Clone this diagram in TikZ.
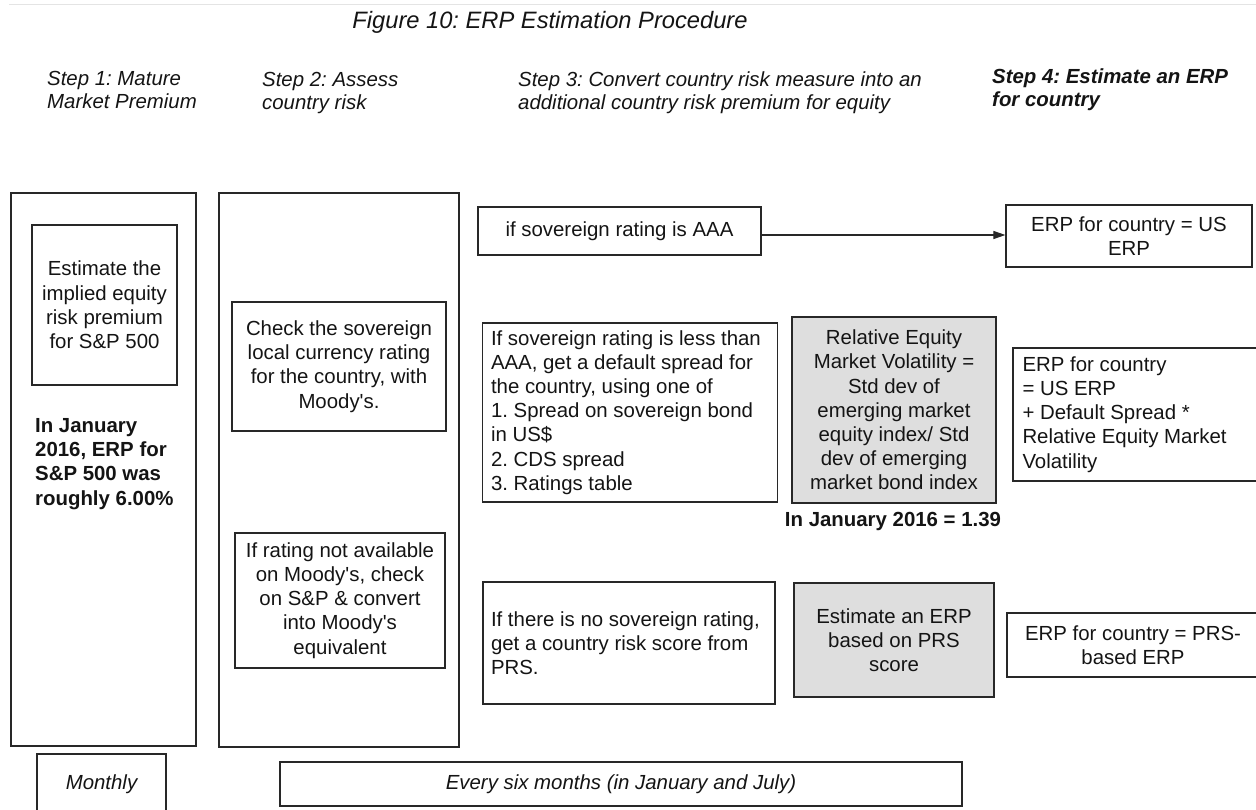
\documentclass[tikz,border=0pt]{standalone}
\usepackage{fontspec}
\setmainfont{Liberation Sans}
\usetikzlibrary{arrows.meta}
\definecolor{boxgray}{RGB}{222,222,222}
\definecolor{edge}{RGB}{40,40,40}
\definecolor{rulegray}{RGB}{228,228,228}
\frenchspacing
\newcommand{\sq}{\textquotesingle}
\begin{document}
\begin{tikzpicture}[x=1pt,y=-1pt,
  txt/.style={font=\fontsize{20.4}{24.2}\selectfont, inner sep=0pt, text=black!92},
  box/.style={txt, draw=edge, line width=1.2pt, align=center},
  lbox/.style={box, align=flush left},
  shaded/.style={box, fill=boxgray},
  hdr/.style={txt, font=\fontsize{20.4}{23}\selectfont\itshape, align=left, anchor=west},
  boldtxt/.style={txt, font=\fontsize{20.4}{24.2}\selectfont\bfseries},
]
\useasboundingbox (0,0) rectangle (1256,810);
\draw[rulegray, line width=1pt] (9,5) -- (1256,5);

% title and headers
\node[txt, font=\fontsize{23.7}{28}\selectfont\itshape] (title) at (550,22) {Figure 10: ERP Estimation Procedure};
\node[hdr] (s1) at (47,89.5) {Step 1: Mature\\Market Premium};
\node[hdr] (s2) at (262,92.5) {Step 2: Assess\\country risk};
\node[hdr] (s3) at (518,92.5) {Step 3: Convert country risk measure into an\\additional country risk premium for equity};
\node[hdr, font=\fontsize{20.4}{23}\selectfont\bfseries\itshape] (s4) at (992,89.5) {Step 4: Estimate an ERP\\for country};

% column 1
\node[box, minimum width=185pt, minimum height=553pt] (outer1) at (103.5,469.5) {};
\node[box, minimum width=145pt, minimum height=160pt] (implied) at (104.5,305) {Estimate the\\implied equity\\risk premium\\for S\&P 500};
\node[boldtxt, align=left, anchor=west] (spnote) at (35,464) {In January\\2016, ERP for\\S\&P 500 was\\roughly 6.00\%};

% column 2
\node[box, minimum width=240pt, minimum height=554pt] (outer2) at (339,470) {};
\node[box, minimum width=214pt, minimum height=129pt] (check) at (339,366.5) {Check the sovereign\\local currency rating\\for the country, with\\Moody\sq s.};
\node[box, minimum width=210pt, minimum height=135pt] (notavail) at (340,600.5) {If rating not available\\on Moody\sq s, check\\on S\&P \& convert\\into Moody\sq s\\equivalent};

% column 3
\node[box, minimum width=283pt, minimum height=48pt] (aaa) at (619.5,231) {if sovereign rating is AAA};
\node[lbox, text width=278pt, inner xsep=8.5pt, minimum height=179pt] (less) at (630,412.5) {If sovereign rating is less than\\AAA, get a default spread for\\the country, using one of\\1. Spread on sovereign bond\\in US\$\\2. CDS spread\\3. Ratings table};
\node[shaded, minimum width=204pt, minimum height=186pt] (rel) at (894,410) {Relative Equity\\Market Volatility =\\Std dev of\\emerging market\\equity index/ Std\\dev of emerging\\market bond index};
\node[boldtxt] (jan) at (893,521) {In January 2016 = 1.39};
\node[lbox, text width=276pt, inner xsep=8pt, minimum height=122pt] (nosov) at (629,643) {If there is no sovereign rating,\\get a country risk score from\\PRS.};
\node[shaded, minimum width=200pt, minimum height=114pt] (prs) at (894,640) {Estimate an ERP\\based on PRS\\score};

% column 4
\node[box, minimum width=246pt, minimum height=62pt] (usr) at (1129,236) {ERP for country = US\\ERP};
\node[lbox, text width=230pt, inner xsep=9.5pt, minimum height=133pt] (formula) at (1137.5,414.5) {ERP for country\\= US ERP\\+ Default Spread *\\Relative Equity Market\\Volatility};
\node[box, minimum width=252pt, minimum height=64pt] (prsbased) at (1133,645) {ERP for country = PRS-\\based ERP};

% frequency bars
\node[box, minimum width=129pt, minimum height=61pt, font=\fontsize{20.4}{24.2}\selectfont\itshape] (monthly) at (101.5,784.5) {Monthly};
\node[box, minimum width=682pt, minimum height=44pt, font=\fontsize{20.4}{24.2}\selectfont\itshape] (six) at (621,784) {Every six months (in January and July)};

% connector
\draw[edge, line width=1.1pt, -{Triangle[length=12pt,width=8pt]}] ([yshift=-4pt]aaa.east) -- ([yshift=-4pt]aaa.east -| usr.west);
\end{tikzpicture}
\end{document}
